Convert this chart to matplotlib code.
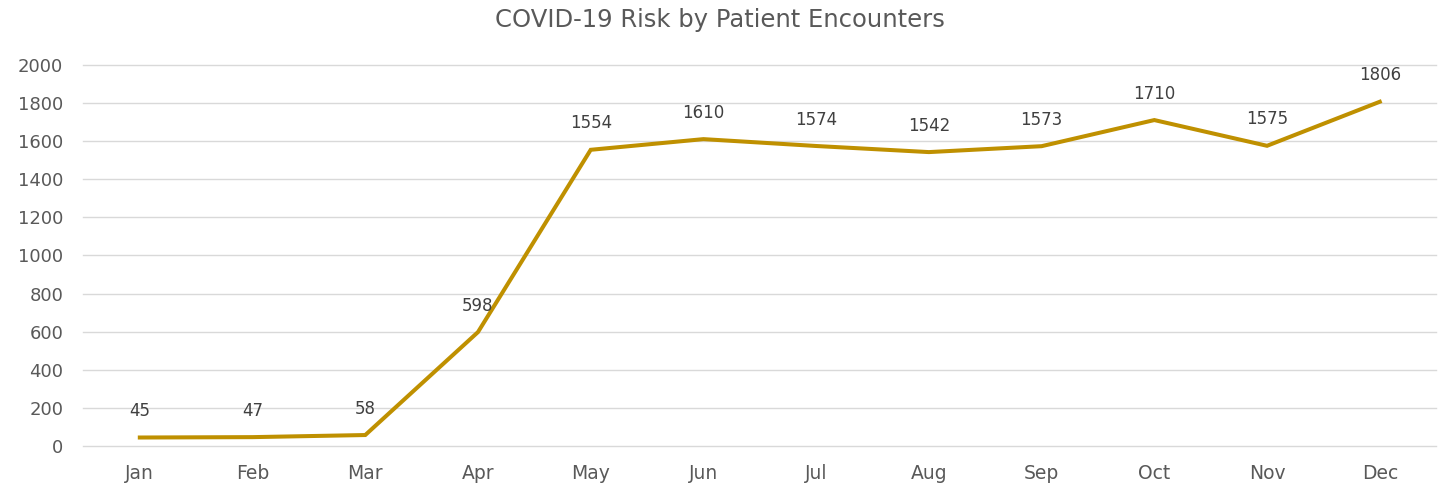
import matplotlib
matplotlib.use('Agg')
import matplotlib.pyplot as plt

months = ['Jan', 'Feb', 'Mar', 'Apr', 'May', 'Jun', 'Jul', 'Aug', 'Sep', 'Oct', 'Nov', 'Dec']
encounters = [45, 47, 58, 598, 1554, 1610, 1574, 1542, 1573, 1710, 1575, 1806]
yticks = [0, 200, 400, 600, 800, 1000, 1200, 1400, 1600, 1800, 2000]

plt.rcParams['font.family'] = ['DejaVu Sans']

fig = plt.figure(figsize=(14.39, 4.87), dpi=100)
ax = fig.add_axes([0.058, 0.084, 0.94, 0.783])

x = list(range(len(months)))
ax.plot(x, encounters, color='#BF9000', linewidth=2.9, solid_joinstyle='miter', zorder=3)

for xi, v in zip(x, encounters):
    ax.annotate(str(v), xy=(xi, v), xytext=(0, 19), textcoords='offset points',
                ha='center', va='center', fontsize=12, color='#404040')

ax.set_xlim(-0.5, len(months) - 0.5)
ax.set_ylim(0, 2000)
ax.set_xticks(x)
ax.set_xticklabels(months)
ax.set_yticks(yticks)
ax.tick_params(axis='both', length=0, colors='#595959')
ax.tick_params(axis='x', pad=13, labelsize=13.5)
ax.tick_params(axis='y', pad=14.5, labelsize=13)
for t in yticks:
    ax.axhline(t, color='#D9D9D9', linewidth=1, clip_on=False, zorder=1)
for s in ax.spines.values():
    s.set_visible(False)

fig.text(0.5, 0.958, 'COVID-19 Risk by Patient Encounters', ha='center', va='center',
         fontsize=17.5, color='#595959')

fig.savefig('out.png', dpi=100)
